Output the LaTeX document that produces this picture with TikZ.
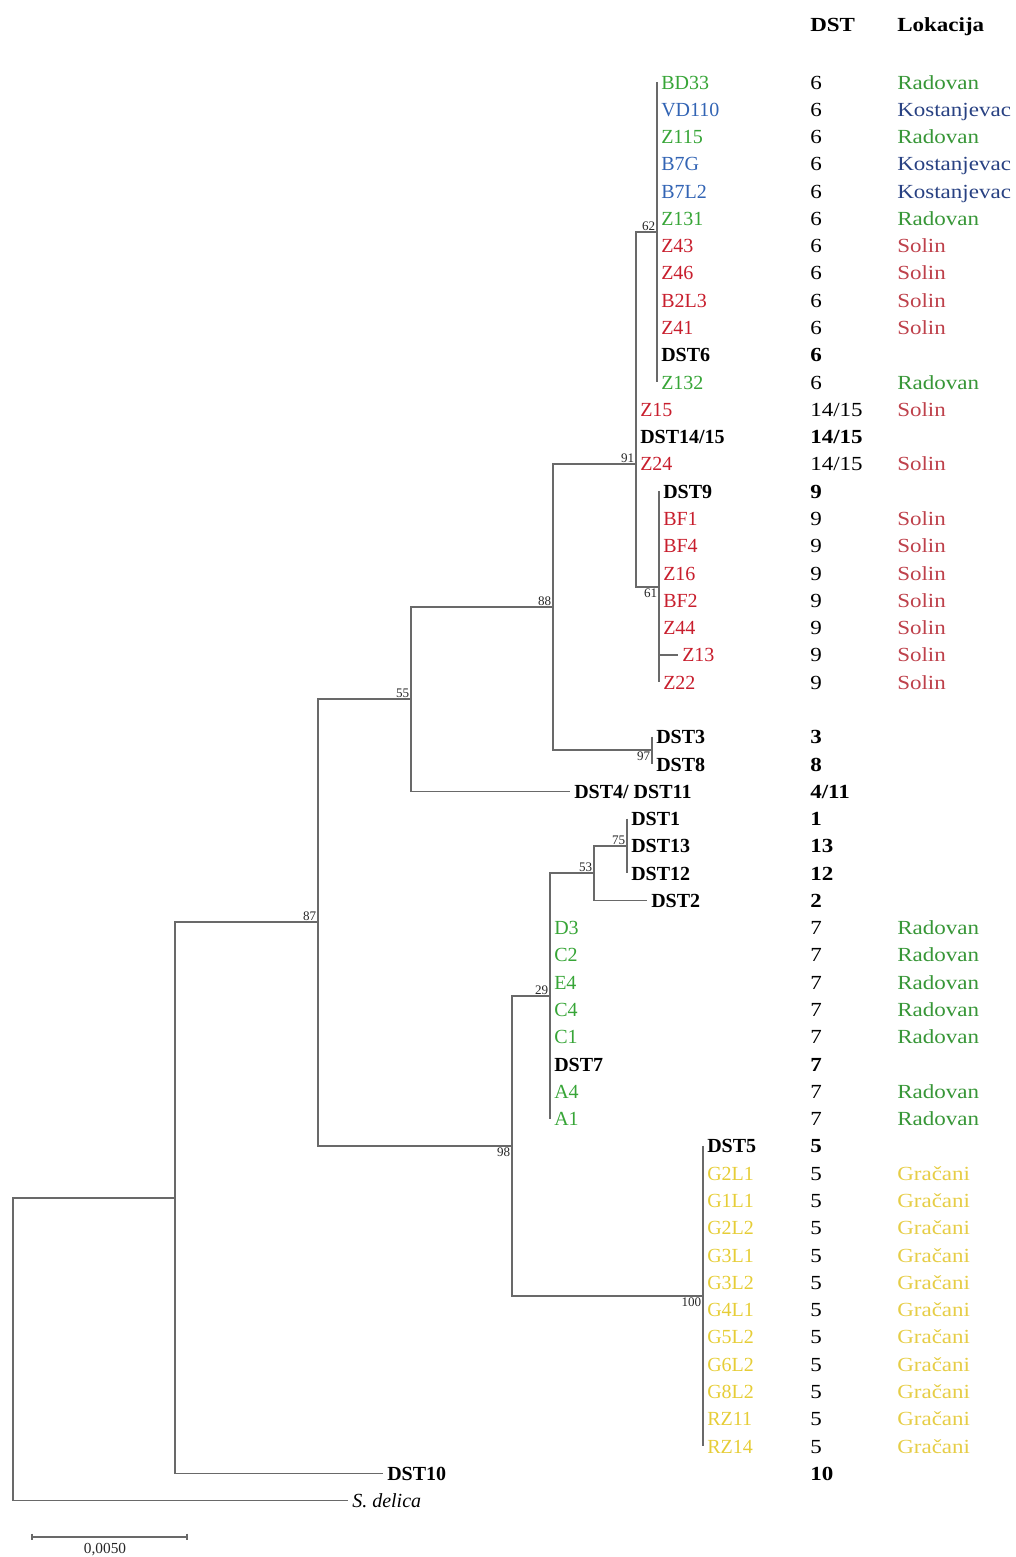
\documentclass[tikz,border=0pt]{standalone}
\usepackage{fontspec}
\setmainfont{Liberation Serif}
\newfontfamily\widefont{Liberation Serif}[FakeStretch=1.15]
\definecolor{linegray}{RGB}{105,105,105}
\definecolor{tgreen}{RGB}{55,165,55}
\definecolor{tblue}{RGB}{50,100,180}
\definecolor{tred}{RGB}{200,30,45}
\definecolor{tyellow}{RGB}{230,205,55}
\definecolor{lgreen}{RGB}{55,150,55}
\definecolor{lblue}{RGB}{40,65,130}
\definecolor{lred}{RGB}{190,65,75}
\definecolor{lyellow}{RGB}{230,205,70}
\begin{document}
\begin{tikzpicture}[x=0.75pt,y=-0.75pt,
  br/.style={draw=linegray, line width=1.1pt},
  tiplab/.style={anchor=base west, inner sep=0pt, font=\fontsize{15}{15}\selectfont},
  colab/.style={anchor=base west, inner sep=0pt, font=\widefont\fontsize{15}{15}\selectfont},
  bs/.style={inner sep=1.2pt, font=\fontsize{9.8}{9.8}\selectfont, text=black!85}]
\useasboundingbox (0,0) rectangle (1015,1557);

% header
\node[colab, font=\widefont\bfseries\fontsize{15}{15}\selectfont] (hdst) at (810,31) {DST};
\node[colab, font=\widefont\bfseries\fontsize{15}{15}\selectfont] (hloc) at (897,31) {Lokacija};

% tips: index / x / label / colour / DST / location / location colour
\foreach \i/\px/\lab/\tc/\d/\loc/\lc in {
  0/657/BD33/tgreen/6/Radovan/lgreen,
  1/657/VD110/tblue/6/Kostanjevac/lblue,
  2/657/Z115/tgreen/6/Radovan/lgreen,
  3/657/B7G/tblue/6/Kostanjevac/lblue,
  4/657/B7L2/tblue/6/Kostanjevac/lblue,
  5/657/Z131/tgreen/6/Radovan/lgreen,
  6/657/Z43/tred/6/Solin/lred,
  7/657/Z46/tred/6/Solin/lred,
  8/657/B2L3/tred/6/Solin/lred,
  9/657/Z41/tred/6/Solin/lred,
  10/657/\textbf{DST6}/black/\textbf{6}/{}/black,
  11/657/Z132/tgreen/6/Radovan/lgreen,
  12/636/Z15/tred/14\slash 15/Solin/lred,
  13/636/\textbf{DST14\slash 15}/black/\textbf{14\slash 15}/{}/black,
  14/636/Z24/tred/14\slash 15/Solin/lred,
  15/659/\textbf{DST9}/black/\textbf{9}/{}/black,
  16/659/BF1/tred/9/Solin/lred,
  17/659/BF4/tred/9/Solin/lred,
  18/659/Z16/tred/9/Solin/lred,
  19/659/BF2/tred/9/Solin/lred,
  20/659/Z44/tred/9/Solin/lred,
  21/678/Z13/tred/9/Solin/lred,
  22/659/Z22/tred/9/Solin/lred,
  24/652/\textbf{DST3}/black/\textbf{3}/{}/black,
  25/652/\textbf{DST8}/black/\textbf{8}/{}/black,
  26/570/\textbf{DST4\slash\ DST11}/black/\textbf{4\slash 11}/{}/black,
  27/627/\textbf{DST1}/black/\textbf{1}/{}/black,
  28/627/\textbf{DST13}/black/\textbf{13}/{}/black,
  29/627/\textbf{DST12}/black/\textbf{12}/{}/black,
  30/647/\textbf{DST2}/black/\textbf{2}/{}/black,
  31/550/D3/tgreen/7/Radovan/lgreen,
  32/550/C2/tgreen/7/Radovan/lgreen,
  33/550/E4/tgreen/7/Radovan/lgreen,
  34/550/C4/tgreen/7/Radovan/lgreen,
  35/550/C1/tgreen/7/Radovan/lgreen,
  36/550/\textbf{DST7}/black/\textbf{7}/{}/black,
  37/550/A4/tgreen/7/Radovan/lgreen,
  38/550/A1/tgreen/7/Radovan/lgreen,
  39/703/\textbf{DST5}/black/\textbf{5}/{}/black,
  40/703/G2L1/tyellow/5/Gračani/lyellow,
  41/703/G1L1/tyellow/5/Gračani/lyellow,
  42/703/G2L2/tyellow/5/Gračani/lyellow,
  43/703/G3L1/tyellow/5/Gračani/lyellow,
  44/703/G3L2/tyellow/5/Gračani/lyellow,
  45/703/G4L1/tyellow/5/Gračani/lyellow,
  46/703/G5L2/tyellow/5/Gračani/lyellow,
  47/703/G6L2/tyellow/5/Gračani/lyellow,
  48/703/G8L2/tyellow/5/Gračani/lyellow,
  49/703/RZ11/tyellow/5/Gračani/lyellow,
  50/703/RZ14/tyellow/5/Gračani/lyellow,
  51/383/\textbf{DST10}/black/\textbf{10}/{}/black,
  52/348/\textit{S. delica}/black/{}/{}/black}
{
  \coordinate (p\i) at (\px,{82+27.28*\i});
  \node[tiplab, text=\tc] (t\i) at ({\px+4},{89+27.28*\i}) {\lab};
  \node[colab] (d\i) at (810,{89+27.28*\i}) {\d};
  \node[colab, text=\lc] (l\i) at (897,{89+27.28*\i}) {\loc};
}

% internal nodes
\coordinate (n62) at (657,232);
\coordinate (n61) at (659,587);
\coordinate (n91) at (636,464);
\coordinate (n97) at (652,750);
\coordinate (n88) at (553,607);
\coordinate (n55) at (411,699);
\coordinate (n75) at (627,846);
\coordinate (n53) at (594,873);
\coordinate (n29) at (550,996);
\coordinate (n100) at (703,1296);
\coordinate (n98) at (512,1146);
\coordinate (n87) at (318,922);
\coordinate (nA) at (175,1198);
\coordinate (root) at (13,1349);

% branches
\draw[br] (p0) -- (p11);
\draw[br] (p15) -- (p22);
\draw[br] (n61 |- p21) -- (p21);
\draw[br] (n62) -| (n91) |- (n61);
\draw[br] (p24) -- (p25);
\draw[br] (n91) -| (n88) |- (n97);
\draw[br] (n88) -| (n55) |- (p26);
\draw[br] (p27) -- (p29);
\draw[br] (n75) -| (n53) |- (p30);
\draw[br] (n53) -| (n29) |- (p38);
\draw[br] (p39) -- (p50);
\draw[br] (n29) -| (n98) |- (n100);
\draw[br] (n55) -| (n87) |- (n98);
\draw[br] (n87) -| (nA) |- (p51);
\draw[br] (nA) -| (root) |- (p52);

% bootstrap values
\node[bs, anchor=south east] (b62) at (n62) {62};
\node[bs, anchor=north east] (b61) at (n61) {61};
\node[bs, anchor=south east] (b91) at (n91) {91};
\node[bs, anchor=north east] (b97) at (n97) {97};
\node[bs, anchor=south east] (b88) at (n88) {88};
\node[bs, anchor=south east] (b55) at (n55) {55};
\node[bs, anchor=south east] (b75) at (n75) {75};
\node[bs, anchor=south east] (b53) at (n53) {53};
\node[bs, anchor=south east] (b29) at (n29) {29};
\node[bs, anchor=north east] (b100) at (n100) {100};
\node[bs, anchor=north east] (b98) at (n98) {98};
\node[bs, anchor=south east] (b87) at (n87) {87};

% scale bar
\coordinate (sb1) at (32,1537);
\coordinate (sb2) at (187,1537);
\draw[br, line width=0.9pt] (sb1) -- (sb2);
\draw[br, line width=0.9pt] ([yshift=2.5pt]sb1) -- ([yshift=-2.5pt]sb1);
\draw[br, line width=0.9pt] ([yshift=2.5pt]sb2) -- ([yshift=-2.5pt]sb2);
\node[inner sep=0pt, font=\fontsize{11.5}{11.5}\selectfont, text=black!85] (sblab) at (105,1550) {0,0050};
\end{tikzpicture}
\end{document}
